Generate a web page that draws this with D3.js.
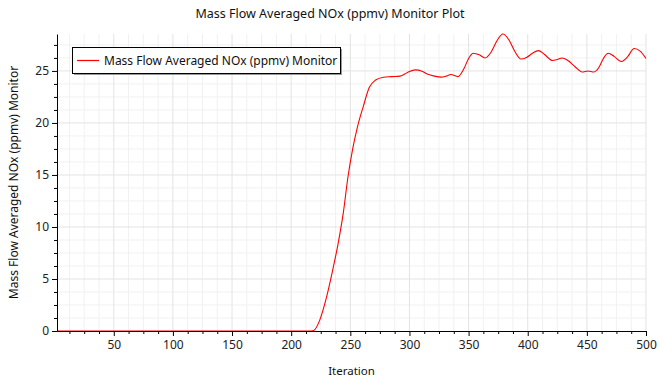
<!DOCTYPE html>
<html><head><meta charset="utf-8">
<script src="https://cdn.jsdelivr.net/npm/d3@7"></script>
<style>body{margin:0;background:#fff}text{font-family:"Noto Sans",sans-serif}</style>
</head><body><svg id="c" width="659" height="380"></svg>
<script>
const title = "Mass Flow Averaged NOx (ppmv) Monitor Plot";
const seriesName = "Mass Flow Averaged NOx (ppmv) Monitor";
const xLabel = "Iteration";
const yLabel = "Mass Flow Averaged NOx (ppmv) Monitor";
const iterations = [2,50,100,150,200,215,219,224,230,235,240,244,248,252,256,261,266,271,278,285,292,296,300,305,310,315,321,327,331,335,341,346,350,354,359,364,369,374,379,384,389,394,399,404,409,414,421,425,429,434,440,446,451,456,460,464,468,473,479,484,490,495,500];
const values =     [0,0,0,0,0,0,0.05,1.0,3.3,5.8,8.6,11.3,14.8,17.5,19.6,21.6,23.4,24.1,24.4,24.45,24.5,24.7,24.95,25.1,25.0,24.7,24.5,24.4,24.5,24.65,24.45,25.2,26.2,26.7,26.55,26.25,26.8,27.9,28.55,28.0,26.9,26.15,26.3,26.7,26.95,26.6,26.0,26.1,26.25,26.0,25.4,24.9,25.0,24.9,25.3,26.2,26.7,26.4,25.9,26.3,27.15,26.9,26.2];
const xTicks = [50,100,150,200,250,300,350,400,450,500];
const yTicks = [0,5,10,15,20,25];

const svg = d3.select("#c");
const L=57, R=646, T=34, B=331;
const x = d3.scaleLinear().domain([2,500]).range([L,R]);
const y = d3.scaleLinear().domain([0,d3.max(values)]).range([B,T]);

const xMinor = d3.range(12.5,500.01,12.5).filter(v=>!xTicks.includes(v));
const yMinor = d3.range(1.25,y.domain()[1],1.25).filter(v=>!yTicks.includes(v));

const g = svg.append("g");
g.selectAll(".vmin").data(xMinor).join("line").attr("x1",d=>x(d)).attr("x2",d=>x(d)).attr("y1",T).attr("y2",B).attr("stroke","#f1f1f1");
g.selectAll(".hmin").data(yMinor).join("line").attr("y1",d=>y(d)).attr("y2",d=>y(d)).attr("x1",L).attr("x2",R).attr("stroke","#f1f1f1");
g.selectAll(".vmaj").data(xTicks).join("line").attr("x1",d=>x(d)).attr("x2",d=>x(d)).attr("y1",T).attr("y2",B).attr("stroke","#e3e3e3");
g.selectAll(".hmaj").data(yTicks.filter(v=>v>0)).join("line").attr("y1",d=>y(d)).attr("y2",d=>y(d)).attr("x1",L).attr("x2",R).attr("stroke","#e3e3e3");

// line
svg.append("path").datum(iterations.map((v,i)=>[v,values[i]]))
  .attr("fill","none").attr("stroke","#ff0000").attr("stroke-width",1.1)
  .attr("d", d3.line().x(d=>x(d[0])).y(d=>y(d[1])).curve(d3.curveMonotoneX));

// axes
svg.append("g").attr("transform",`translate(0,${B})`)
  .call(d3.axisBottom(x).tickValues(xTicks).tickSize(5).tickSizeOuter(0).tickPadding(4));
svg.append("g").attr("transform",`translate(0,${B})`)
  .call(d3.axisBottom(x).tickValues(xMinor).tickSize(3).tickFormat("").tickSizeOuter(0))
  .select(".domain").remove();
svg.append("g").attr("transform",`translate(${L},0)`)
  .call(d3.axisLeft(y).tickValues(yTicks).tickSize(5).tickSizeOuter(0).tickPadding(3));
svg.append("g").attr("transform",`translate(${L},0)`)
  .call(d3.axisLeft(y).tickValues(yMinor).tickSize(3).tickFormat("").tickSizeOuter(0))
  .select(".domain").remove();
svg.selectAll(".tick text").attr("font-size",12).attr("fill","#222").attr("font-family","Noto Sans");
svg.selectAll(".domain").attr("stroke","#000");
svg.selectAll(".tick line").attr("stroke","#000");

// title and labels
svg.append("text").attr("x",330).attr("y",18).attr("text-anchor","middle").attr("font-size",12.5).attr("fill","#111").text(title);
svg.append("text").attr("x",(L+R)/2).attr("y",375).attr("text-anchor","middle").attr("font-size",11.5).attr("fill","#111").text(xLabel);
svg.append("text").attr("transform",`translate(18,${(T+B)/2}) rotate(-90)`).attr("text-anchor","middle").attr("font-size",12).attr("fill","#111").text(yLabel);

// legend
const lg = svg.append("g");
lg.append("rect").attr("x",74).attr("y",49).attr("width",268).attr("height",26).attr("fill","#999");
lg.append("rect").attr("x",72.5).attr("y",47.5).attr("width",268).attr("height",26).attr("fill","#fff").attr("stroke","#000");
lg.append("line").attr("x1",77).attr("x2",99).attr("y1",60.5).attr("y2",60.5).attr("stroke","#ff0000").attr("stroke-width",1.2);
lg.append("text").attr("x",104).attr("y",65).attr("font-size",12).attr("fill","#111").text(seriesName);
</script></body></html>
